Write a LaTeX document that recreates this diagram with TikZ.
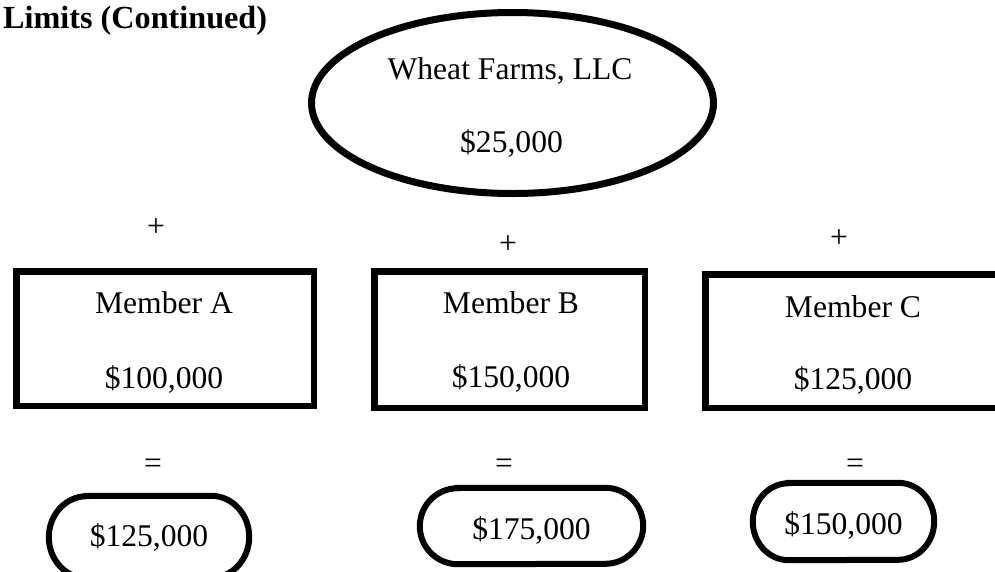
\documentclass[tikz,border=0pt]{standalone}
\usepackage{fontspec}
\setmainfont{Liberation Serif}
\usetikzlibrary{shapes.geometric}
\begin{document}
\begin{tikzpicture}[x=1pt,y=-1pt,
  txt/.style={inner sep=0pt,font=\fontsize{31.6}{36}\selectfont},
  btxt/.style={txt,anchor=base},
  boxst/.style={draw,line width=6.5pt,inner sep=0pt,rectangle},
  ellst/.style={draw,line width=7pt,inner sep=0pt,ellipse},
  pillst/.style={inner sep=0pt,rectangle},
  pillline/.style={line width=6pt}]
\useasboundingbox (0,0) rectangle (995,571);
\clip (0,0) rectangle (995,571);
% title
\node[btxt,anchor=base west,font=\fontsize{32.2}{36}\selectfont\bfseries] (title) at (3,28) {Limits (Continued)};
% ellipse
\node[ellst,minimum width=402pt,minimum height=181pt] (llc) at (512.5,103) {};
\node[btxt] (llcname) at (510,79) {Wheat Farms, LLC};
\node[btxt] (llcamt) at (511.5,152) {\$25,000};
% plus signs
\node[txt] (plusA) at (156,228) {+};
\node[txt] (plusB) at (508,245) {+};
\node[txt] (plusC) at (839,239) {+};
% member boxes
\node[boxst,minimum width=297.5pt,minimum height=134.5pt] (boxA) at (165,338.5) {};
\node[btxt] (nameA) at (164,313) {Member A};
\node[btxt] (amtA) at (164,388) {\$100,000};
\node[boxst,minimum width=270.5pt,minimum height=136.5pt] (boxB) at (509.5,339.5) {};
\node[btxt] (nameB) at (511,313) {Member B};
\node[btxt] (amtB) at (511,387) {\$150,000};
\node[boxst,minimum width=295.5pt,minimum height=133.5pt] (boxC) at (853,341) {};
\node[btxt] (nameC) at (853,317) {Member C};
\node[btxt] (amtC) at (853,389) {\$125,000};
% equal signs
\node[txt] (eqA) at (153,466) {=};
\node[txt] (eqB) at (504,466) {=};
\node[txt] (eqC) at (855,466) {=};
% totals
\node[pillst,minimum width=200pt,minimum height=82pt] (totA) at (149,537) {};
\draw[pillline] ([xshift=38pt]totA.north west) -- ([xshift=-38pt]totA.north east)
  arc[start angle=90,end angle=-90,x radius=38pt,y radius=41pt]
  -- ([xshift=38pt]totA.south west)
  arc[start angle=270,end angle=90,x radius=38pt,y radius=41pt] -- cycle;
\node[btxt] (totAtxt) at (149,546) {\$125,000};
\node[pillst,minimum width=223pt,minimum height=76pt] (totB) at (531.5,526) {};
\draw[pillline] ([xshift=38pt]totB.north west) -- ([xshift=-38pt]totB.north east)
  arc[start angle=90,end angle=-90,x radius=38pt,y radius=38pt]
  -- ([xshift=38pt]totB.south west)
  arc[start angle=270,end angle=90,x radius=38pt,y radius=38pt] -- cycle;
\node[btxt] (totBtxt) at (531.5,539) {\$175,000};
\node[pillst,minimum width=181pt,minimum height=77pt] (totC) at (843.5,521.5) {};
\draw[pillline] ([xshift=36pt]totC.north west) -- ([xshift=-36pt]totC.north east)
  arc[start angle=90,end angle=-90,x radius=36pt,y radius=38.5pt]
  -- ([xshift=36pt]totC.south west)
  arc[start angle=270,end angle=90,x radius=36pt,y radius=38.5pt] -- cycle;
\node[btxt] (totCtxt) at (843.5,534) {\$150,000};
\end{tikzpicture}
\end{document}
